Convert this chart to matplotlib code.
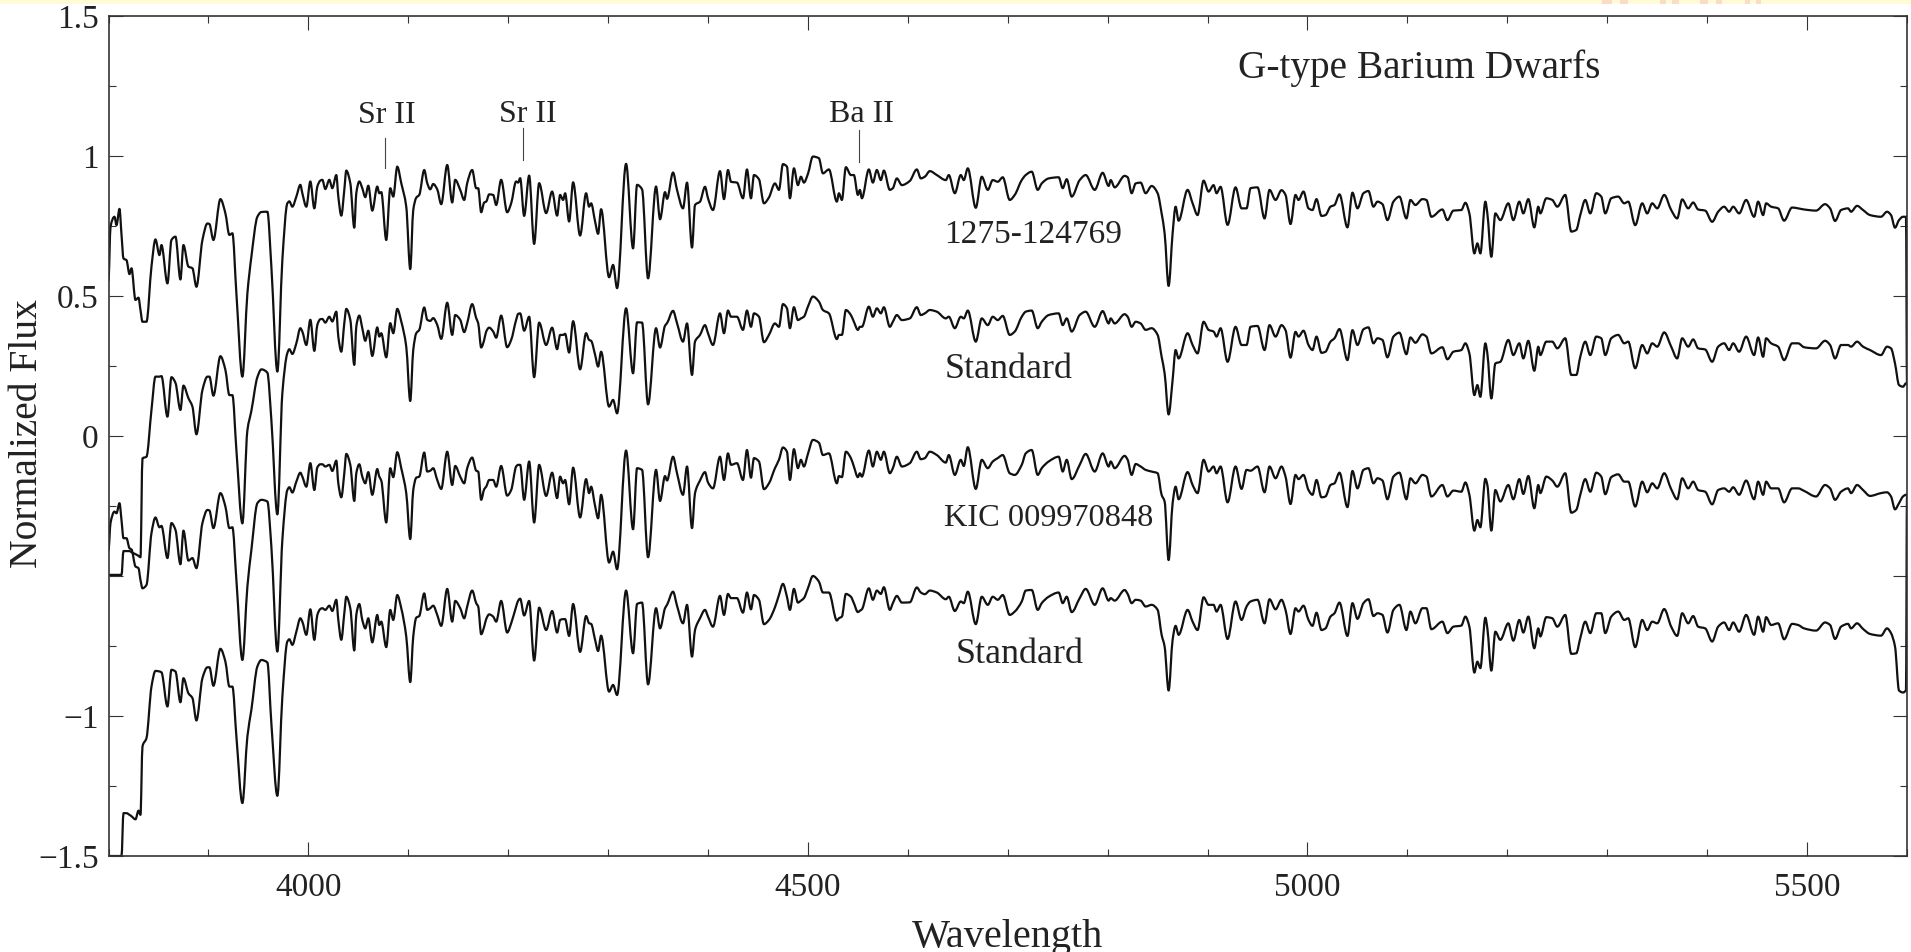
import numpy as np
import matplotlib
matplotlib.use("Agg")
import matplotlib.pyplot as plt
from matplotlib.lines import Line2D
from matplotlib.path import Path
from matplotlib.patches import Rectangle
from matplotlib.transforms import TransformedPath
from matplotlib.ticker import MultipleLocator, FixedLocator, FixedFormatter

plt.rcParams['font.family'] = ['Liberation Serif', 'DejaVu Serif']

wave_a = [3800,3802,3806,3808,3811,3813,3815,3818,3821,3823,3827,3830,3832,3834,3838,3843,3847,3851,3853,3859,3863,3867,3872,3875,3880,3884,3888,3894,3899,3901,3905,3912,3917,3921,3924,3928,3934,3939,3943,3949,3953,3959,3963,3969]
wave_b = [3974,3979,3981,3984,3988,3992,3994,3998,4002,4006,4009,4012,4014,4017,4021,4024,4028,4030,4033,4036,4038,4042,4046,4048,4051,4054,4057,4060,4064,4069,4071,4073,4078,4082,4085,4089,4093,4098,4102,4105,4108,4111,4116,4119,4122,4125,4129,4133,4139,4144,4147,4152,4156,4159,4164,4168,4170,4173,4176,4178,4181,4185,4188,4193,4199,4203,4208,4210,4212,4216,4221,4226,4231,4238,4244,4249,4252,4255,4257,4261,4265,4272,4278,4281,4283,4287,4290,4293,4301,4305,4309,4318,4325,4329,4334,4340,4348,4352,4357,4359,4365,4369]
wave_c = [4375,4379,4384,4387,4392,4397,4400,4405,4412,4416,4420,4423,4429,4435,4439,4443,4446,4451,4456,4461,4467,4471,4475,4479,4482,4486,4490,4493,4496,4500,4505,4511,4515,4521,4529,4531,4534,4538,4543,4546,4550,4552,4554,4561,4565,4569,4573,4576,4582,4585,4589,4594,4602,4609,4613,4617,4622,4629,4638,4641,4647,4653,4656,4660,4668,4674,4680,4685,4690,4695,4702,4707,4714,4718,4724,4730,4734,4741,4751,4755,4759,4764,4772,4778,4787,4795,4801,4803,4807,4817,4820,4824,4828,4833,4838,4844,4850,4854,4857,4861,4865,4868,4871,4880,4885,4890,4896,4901,4906,4909,4913,4920,4928,4934,4939,4943,4950,4957,4962,4968]
wave_d = [4974,4978,4983,4988,4991,4996,5001,5005,5009,5014,5018,5023,5027,5032,5040,5045,5050,5056,5061,5066,5070,5075,5080,5086,5092,5099,5103,5108,5115,5119,5124,5135,5140,5146,5154,5158,5162,5167,5170,5173,5178,5180,5184,5188,5193,5201,5206,5212,5216,5221,5227,5231,5233,5239,5245,5250,5258,5264,5269,5273,5278,5283,5289,5294,5298,5304,5311,5317,5321,5328,5335,5340,5345,5350,5357,5364,5370,5375,5381,5386,5391,5398,5405,5411,5417,5422,5426,5432,5439,5447,5451,5456,5459,5464,5471,5477,5485,5491,5497,5509,5518,5523,5528,5534,5541,5544,5550,5556,5563,5574,5580,5584,5588,5592,5596,5599,5600]

s1_a = [.557,.747,.783,.753,.811,.72,.634,.628,.578,.599,.486,.494,.45,.408,.408,.605,.702,.646,.682,.545,.700,.712,.559,.682,.605,.599,.533,.700,.759,.757,.700,.846,.795,.718,.724,.509,.212,.509,.640,.783,.80,.801,.605,.230]
s2_a = [-.496,-.496,-.496,-.496,-.496,-.496,-.411,-.411,-.411,-.415,-.422,-.428,-.433,-.08,-.074,.093,.212,.212,.214,.069,.21,.19,.093,.18,.135,.105,.006,.164,.212,.212,.144,.285,.236,.146,.146,-.05,-.312,.02,.09,.21,.238,.226,.057,-.28]
s3_a = [-.407,-.311,-.270,-.276,-.240,-.30,-.365,-.365,-.401,-.405,-.466,-.472,-.514,-.544,-.532,-.347,-.291,-.326,-.321,-.436,-.311,-.335,-.458,-.338,-.445,-.436,-.472,-.311,-.264,-.266,-.329,-.204,-.252,-.329,-.326,-.514,-.80,-.538,-.407,-.24,-.228,-.234,-.395,-.77]
s4_a = [-1.5,-1.5,-1.5,-1.5,-1.5,-1.5,-1.347,-1.347,-1.353,-1.358,-1.369,-1.338,-1.353,-1.109,-1.079,-.895,-.839,-.841,-.844,-.966,-.835,-.841,-.951,-.865,-.919,-.936,-1.016,-.865,-.826,-.826,-.892,-.76,-.806,-.895,-.895,-1.073,-1.311,-1.073,-.978,-.823,-.80,-.809,-1.026,-1.285]

s1_b = [.629,.831,.838,.819,.855,.897,.867,.819,.909,.813,
.891,.912,.915,.882,.915,.885,.932,.855,.787,.879,
.948,.903,.744,.867,.909,.885,.853,.894,.805,.891,
.867,.871,.700,.885,.855,.962,.903,.819,.596,.807,
.851,.861,.950,.903,.881,.900,.881,.828,.968,.834,
.915,.879,.843,.903,.950,.885,.885,.799,.834,.837,
.863,.861,.825,.915,.799,.831,.909,.905,.921,.786,
.930,.686,.903,.796,.873,.787,.861,.843,.867,.766,
.906,.716,.867,.819,.831,.766,.722,.810,.567,.611,
.528,.972,.670,.897,.881,.563,.891,.774,.871,.847,
.941,.879]
s2_b = [.153,.296,.310,.293,.331,.385,.373,.325,.415,.304,
.397,.417,.418,.405,.426,.409,.444,.355,.301,.403,
.454,.415,.254,.391,.430,.385,.340,.376,.286,.388,
.355,.367,.281,.403,.367,.454,.409,.319,.125,.307,
.367,.379,.459,.415,.411,.421,.397,.347,.476,.361,
.432,.415,.371,.403,.471,.421,.403,.316,.343,.373,
.387,.373,.351,.430,.317,.343,.415,.436,.438,.376,
.426,.210,.405,.325,.387,.310,.361,.361,.365,.298,
.410,.238,.367,.343,.340,.290,.248,.301,.105,.129,
.081,.456,.224,.406,.405,.113,.385,.316,.394,.403,
.447,.403]
s3_b = [-.371,-.193,-.183,-.202,-.163,-.131,-.145,-.181,-.097,-.193,
-.112,-.101,-.101,-.109,-.103,-.125,-.088,-.169,-.219,-.133,
-.064,-.103,-.232,-.133,-.101,-.145,-.169,-.129,-.210,-.118,
-.145,-.159,-.309,-.115,-.147,-.058,-.115,-.204,-.368,-.193,
-.149,-.145,-.059,-.127,-.124,-.115,-.157,-.189,-.056,-.175,
-.107,-.145,-.169,-.115,-.077,-.124,-.127,-.228,-.190,-.181,
-.157,-.157,-.181,-.107,-.213,-.193,-.109,-.103,-.103,-.228,
-.091,-.309,-.103,-.214,-.131,-.222,-.145,-.169,-.157,-.244,
-.113,-.291,-.154,-.204,-.181,-.250,-.294,-.210,-.452,-.413,
-.476,-.052,-.333,-.115,-.121,-.433,-.121,-.232,-.143,-.159,
-.074,-.133]
s4_b = [-.931,-.734,-.726,-.746,-.699,-.651,-.663,-.710,-.619,-.728,
-.639,-.618,-.615,-.621,-.606,-.625,-.585,-.657,-.728,-.633,
-.574,-.615,-.766,-.639,-.600,-.657,-.687,-.651,-.737,-.639,
-.675,-.663,-.754,-.621,-.657,-.568,-.615,-.716,-.879,-.716,
-.649,-.643,-.562,-.621,-.615,-.606,-.639,-.678,-.546,-.663,
-.589,-.615,-.651,-.609,-.552,-.597,-.609,-.708,-.681,-.654,
-.637,-.645,-.663,-.589,-.702,-.669,-.609,-.588,-.581,-.641,
-.589,-.802,-.613,-.693,-.625,-.702,-.657,-.654,-.654,-.714,
-.600,-.771,-.643,-.669,-.671,-.728,-.768,-.713,-.913,-.889,
-.925,-.552,-.776,-.600,-.595,-.887,-.615,-.687,-.615,-.603,
-.556,-.606]

s1_c = [.813,.905,.673,.825,.837,.890,.849,.807,.946,.846,
.950,.908,.905,.849,.952,.849,.932,.917,.831,.852,
.902,.879,.971,.962,.849,.956,.896,.926,.905,.936,
.998,.992,.938,.952,.837,.867,.843,.960,.932,.932,
.861,.879,.849,.952,.905,.950,.914,.948,.879,.885,
.920,.896,.911,.952,.920,.926,.946,.932,.914,.932,
.867,.932,.914,.956,.815,.926,.879,.914,.908,.924,
.843,.861,.914,.932,.944,.879,.902,.920,.924,.885,
.917,.855,.914,.932,.879,.940,.893,.914,.888,.929,
.924,.867,.902,.905,.867,.893,.867,.795,.724,.536,
.724,.819,.769,.879,.831,.789,.912,.873,.896,.867,
.890,.754,.888,.813,.813,.885,.888,.777,.879,.843]
s2_c = [.337,.402,.218,.337,.361,.396,.367,.325,.438,.367,
.448,.426,.426,.379,.448,.390,.438,.426,.335,.361,
.402,.390,.471,.456,.385,.460,.414,.420,.426,.462,
.498,.480,.450,.438,.346,.361,.361,.450,.432,.408,
.379,.390,.390,.462,.426,.456,.438,.460,.390,.408,
.432,.414,.420,.460,.432,.438,.450,.444,.420,.426,
.385,.426,.420,.448,.337,.420,.396,.426,.414,.429,
.361,.373,.426,.444,.448,.385,.408,.432,.438,.396,
.420,.373,.432,.444,.390,.446,.402,.420,.402,.435,
.426,.390,.408,.402,.379,.385,.361,.283,.224,.077,
.200,.307,.277,.367,.325,.295,.408,.379,.373,.355,
.385,.265,.390,.325,.325,.390,.393,.307,.396,.355]
s3_c = [-.210,-.109,-.329,-.204,-.159,-.129,-.166,-.187,-.074,-.157,
-.062,-.103,-.097,-.157,-.050,-.149,-.079,-.091,-.190,-.169,
-.115,-.085,-.041,-.056,-.157,-.047,-.115,-.085,-.109,-.064,
-.014,-.024,-.068,-.062,-.169,-.143,-.147,-.056,-.079,-.109,
-.147,-.133,-.145,-.052,-.109,-.056,-.085,-.056,-.133,-.115,
-.074,-.109,-.097,-.056,-.083,-.079,-.056,-.068,-.095,-.068,
-.139,-.085,-.107,-.040,-.189,-.085,-.115,-.091,-.079,-.068,
-.133,-.139,-.103,-.062,-.050,-.139,-.115,-.091,-.074,-.127,
-.085,-.154,-.103,-.064,-.127,-.062,-.109,-.091,-.115,-.071,
-.085,-.139,-.100,-.109,-.121,-.127,-.133,-.210,-.234,-.443,
-.240,-.181,-.226,-.129,-.175,-.204,-.085,-.127,-.109,-.133,
-.109,-.237,-.109,-.189,-.121,-.124,-.109,-.201,-.109,-.151]
s4_c = [-.669,-.603,-.788,-.693,-.651,-.621,-.645,-.681,-.571,-.639,
-.564,-.579,-.579,-.631,-.559,-.619,-.568,-.585,-.672,-.657,
-.612,-.568,-.528,-.574,-.621,-.546,-.595,-.588,-.579,-.544,
-.500,-.520,-.559,-.559,-.659,-.651,-.645,-.564,-.574,-.597,
-.629,-.624,-.619,-.544,-.585,-.552,-.564,-.540,-.621,-.597,
-.571,-.595,-.594,-.541,-.559,-.565,-.552,-.559,-.583,-.574,
-.625,-.591,-.597,-.556,-.672,-.574,-.603,-.574,-.585,-.568,
-.639,-.627,-.591,-.552,-.550,-.621,-.597,-.574,-.559,-.597,
-.574,-.629,-.579,-.546,-.603,-.544,-.588,-.579,-.588,-.550,
-.564,-.597,-.585,-.588,-.609,-.603,-.621,-.710,-.752,-.909,
-.728,-.678,-.710,-.621,-.663,-.693,-.576,-.603,-.603,-.627,
-.603,-.725,-.591,-.657,-.609,-.591,-.585,-.669,-.583,-.619]

s1_d = [.878,.861,.757,.861,.843,.873,.813,.807,.846,.786,
.789,.819,.825,.863,.745,.869,.813,.867,.875,.819,
.837,.828,.771,.837,.855,.777,.843,.825,.846,.843,
.783,.809,.771,.805,.807,.833,.795,.652,.688,.652,
.837,.795,.640,.795,.771,.831,.771,.837,.795,.846,
.745,.819,.795,.849,.843,.819,.861,.730,.736,.789,
.843,.795,.867,.855,.795,.849,.855,.831,.837,.753,
.831,.795,.831,.813,.861,.807,.777,.845,.813,.834,
.809,.805,.765,.801,.819,.801,.819,.795,.843,.783,
.837,.789,.831,.819,.813,.769,.816,.813,.809,.805,
.828,.813,.768,.807,.813,.801,.822,.807,.789,.783,
.801,.789,.744,.771,.783,.783,.188]
s2_d = [.396,.378,.280,.372,.355,.376,.325,.307,.355,.297,
.301,.337,.349,.382,.271,.378,.325,.381,.388,.331,
.349,.343,.281,.355,.369,.292,.352,.333,.363,.355,
.295,.317,.274,.301,.307,.331,.295,.146,.182,.140,
.331,.295,.134,.259,.265,.343,.289,.331,.277,.340,
.233,.319,.289,.337,.337,.313,.349,.218,.218,.283,
.337,.289,.355,.349,.289,.349,.361,.331,.337,.242,
.325,.295,.331,.319,.370,.319,.277,.349,.319,.345,
.313,.309,.265,.319,.331,.307,.331,.301,.355,.289,
.352,.283,.349,.331,.319,.271,.331,.331,.317,.313,
.340,.325,.277,.325,.325,.319,.337,.319,.307,.289,
.319,.313,.259,.182,.176,.188,.188]
s3_d = [-.109,-.145,-.243,-.139,-.154,-.139,-.193,-.210,-.157,-.219,
-.216,-.175,-.169,-.131,-.254,-.125,-.187,-.121,-.115,-.169,
-.151,-.159,-.226,-.145,-.131,-.226,-.151,-.169,-.139,-.145,
-.216,-.175,-.216,-.195,-.199,-.166,-.210,-.338,-.300,-.326,
-.153,-.175,-.338,-.193,-.234,-.175,-.226,-.154,-.207,-.143,
-.258,-.175,-.204,-.145,-.159,-.181,-.133,-.274,-.264,-.210,
-.154,-.199,-.131,-.145,-.208,-.147,-.137,-.163,-.163,-.252,
-.163,-.201,-.169,-.187,-.133,-.190,-.226,-.151,-.187,-.163,
-.193,-.199,-.244,-.193,-.187,-.199,-.183,-.210,-.159,-.226,
-.163,-.210,-.163,-.187,-.187,-.237,-.187,-.187,-.196,-.216,
-.175,-.187,-.228,-.199,-.187,-.204,-.175,-.193,-.214,-.204,
-.201,-.216,-.262,-.240,-.216,-.210,-.210]
s4_d = [-.585,-.621,-.707,-.615,-.627,-.606,-.657,-.678,-.631,-.693,
-.687,-.645,-.633,-.595,-.714,-.597,-.653,-.597,-.583,-.643,
-.633,-.639,-.702,-.621,-.603,-.693,-.627,-.669,-.615,-.615,
-.690,-.663,-.704,-.681,-.677,-.645,-.681,-.845,-.806,-.829,
-.649,-.687,-.838,-.699,-.728,-.669,-.731,-.657,-.702,-.645,
-.758,-.687,-.716,-.647,-.651,-.681,-.639,-.778,-.776,-.722,
-.663,-.704,-.633,-.633,-.704,-.645,-.627,-.657,-.651,-.754,
-.657,-.693,-.663,-.669,-.618,-.681,-.714,-.633,-.669,-.643,
-.681,-.687,-.734,-.681,-.666,-.693,-.666,-.699,-.639,-.710,
-.645,-.699,-.647,-.675,-.669,-.726,-.671,-.675,-.687,-.695,
-.666,-.675,-.725,-.681,-.671,-.687,-.669,-.689,-.707,-.713,
-.687,-.704,-.752,-.909,-.916,-.907,-.21]

x_ticks = [4000, 4500, 5000, 5500]
x_labels = ["4000", "4500", "5000", "5500"]
y_ticks = [-1.5, -1, -0.5, 0, 0.5, 1, 1.5]
y_labels = ["\u22121.5", "\u22121", "", "0", "0.5", "1", "1.5"]
star_names = ["1275-124769", "Standard", "KIC 009970848", "Standard"]
star_x = [4636.6, 4636.6, 4636.6, 4647.6]
star_y = [0.72, 0.237, -0.294, -0.782]
star_size = [24, 26, 23.3, 26]
lines_name = ["Sr II", "Sr II", "Ba II"]
lines_text_x = [4079, 4219.5, 4553.7]
lines_text_y = [1.143, 1.147, 1.147]
lines_x = [4077, 4215, 4551.5]
lines_top = [1.063, 1.099, 1.093]
lines_bot = [0.956, 0.986, 0.98]


class RoundedLine(Line2D):
    """A Line2D whose nodes are the read values, joined by monotone Bezier arcs."""
    def _transform_path(self, subslice=None):
        x, y = np.asarray(self.get_xdata(), float), np.asarray(self.get_ydata(), float)
        h = np.diff(x)
        d = np.diff(y) / h
        m = np.zeros_like(y)
        same = d[:-1] * d[1:] > 0
        w1, w2 = 2 * h[1:] + h[:-1], h[1:] + 2 * h[:-1]
        m[1:-1][same] = (w1 + w2)[same] / (w1[same] / d[:-1][same] + w2[same] / d[1:][same])
        verts = [(x[0], y[0])]
        for i in range(len(h)):
            verts.append((x[i] + h[i] / 3, y[i] + m[i] * h[i] / 3))
            verts.append((x[i + 1] - h[i] / 3, y[i + 1] - m[i + 1] * h[i] / 3))
            verts.append((x[i + 1], y[i + 1]))
        codes = [Path.MOVETO] + [Path.CURVE4] * (3 * len(h))
        self._transformed_path = TransformedPath(Path(verts, codes), self.get_transform())
        self._subslice = False


W, H = 1911, 952
fig = plt.figure(figsize=(W / 100, H / 100), dpi=100, facecolor="white")
fig.add_artist(Rectangle((0, 1 - 4 / H), 1, 4 / H, transform=fig.transFigure, fc="#fffbd6", ec="none"))
for px, pw in [(1602, 10), (1620, 8), (1660, 6), (1672, 7), (1700, 8), (1716, 6), (1745, 5), (1756, 5)]:
    fig.add_artist(Rectangle((px / W, 1 - 4 / H), pw / W, 4 / H, transform=fig.transFigure, fc="#fbdcc8", ec="none"))

L, R, T, B = 108.5, 1907, 16, 856
ax = fig.add_axes([L / W, 1 - B / H, (R - L) / W, (B - T) / H])
wave = wave_a + wave_b + wave_c + wave_d
for s in (s1_a + s1_b + s1_c + s1_d, s2_a + s2_b + s2_c + s2_d,
          s3_a + s3_b + s3_c + s3_d, s4_a + s4_b + s4_c + s4_d):
    ax.add_line(RoundedLine(wave, s, color="#111111", lw=1.6, solid_joinstyle="round"))
ax.set_xlim(3800, 5600)
ax.set_ylim(-1.5, 1.5)

ax.xaxis.set_major_locator(FixedLocator(x_ticks))
ax.xaxis.set_major_formatter(FixedFormatter(x_labels))
ax.xaxis.set_minor_locator(MultipleLocator(100))
ax.yaxis.set_major_locator(FixedLocator(y_ticks))
ax.yaxis.set_major_formatter(FixedFormatter(y_labels))
ax.yaxis.set_minor_locator(MultipleLocator(0.25))
ax.tick_params(which="major", direction="in", length=10, width=0.8, top=True, right=True, color="#333333", labelsize=24, labelcolor="#222222")
ax.tick_params(which="minor", direction="in", length=5, width=0.8, top=True, right=True, color="#333333")
ax.tick_params(axis="x", which="major", pad=12)
ax.tick_params(axis="y", which="major", pad=7)
for sp in ax.spines.values():
    sp.set_linewidth(1.2)
    sp.set_color("#333333")

fig.text(0.5 * (L + R) / W, 1 - 937 / H, "Wavelength", fontsize=29, color="#222222", ha="center", va="center")
fig.text(28 / W, 1 - 434 / H, "Normalized Flux", fontsize=28.5, color="#222222", rotation=90, ha="center", va="center")
ax.text(5112, 1.312, "G-type Barium Dwarfs", fontsize=28.3, color="#222222", ha="center", va="center")
for n, x, y, fs in zip(star_names, star_x, star_y, star_size):
    ax.text(x, y, n, fontsize=fs, color="#222222", ha="left", va="center")
for n, tx, ty, x, t, b in zip(lines_name, lines_text_x, lines_text_y, lines_x, lines_top, lines_bot):
    ax.text(tx, ty, n, fontsize=23, color="#222222", ha="center", va="center")
    ax.plot([x, x], [b, t], color="#444444", lw=0.8)

fig.savefig("out.png", dpi=100)
